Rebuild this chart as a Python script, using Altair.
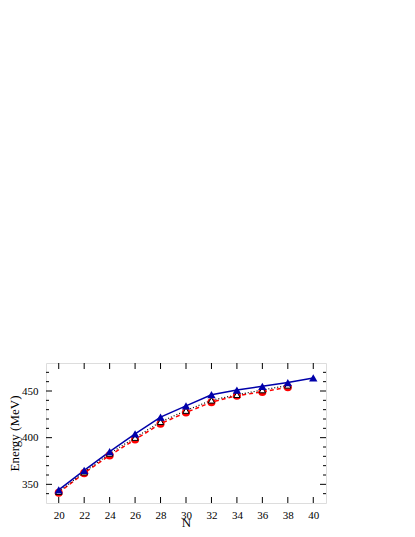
import altair as alt
import pandas as pd

N_blue = [20, 22, 24, 26, 28, 30, 32, 34, 36, 38, 40]
E_blue = [344, 365, 385, 404, 422, 434, 446, 451, 455, 459, 464]
N_red = [20, 22, 24, 26, 28, 30, 32, 34, 36, 38]
E_red = [341, 362, 381, 398, 415, 427, 438, 445, 449, 454]
N_open = [20, 22, 24, 26, 28, 30, 32, 34, 36, 38]
E_open = [342, 363, 383, 400, 417, 429, 440, 446, 451, 456]

x_ticks = list(range(20, 41, 2))
y_major = [350, 400, 450]
y_minor = [v for v in range(340, 480, 10) if v not in y_major]

W, H = 280, 140
FONT = "Liberation Serif"

xs = alt.Scale(domain=[19, 41], nice=False, zero=False)
ys = alt.Scale(domain=[330, 480], nice=False, zero=False)

blue = pd.DataFrame({"N": N_blue, "E": E_blue})
red = pd.DataFrame({"N": N_red, "E": E_red})
opn = pd.DataFrame({"N": N_open, "E": E_open})
xt = pd.DataFrame({"N": x_ticks})
ytM = pd.DataFrame({"E": y_major})
ytm = pd.DataFrame({"E": y_minor})

xax = alt.Axis(values=x_ticks, ticks=False, domain=False, grid=False, labelFont=FONT,
               labelFontSize=11, labelColor="black", labelPadding=6, labelOverlap=False,
               labelFlush=False, title="N", titleFont=FONT, titleFontSize=13,
               titleFontWeight="normal", titlePadding=-4, titleColor="black")
yax = alt.Axis(values=y_major, ticks=False, domain=False, grid=False, labelFont=FONT,
               labelFontSize=11, labelColor="black", labelPadding=8, labelOverlap=False,
               labelFlush=False, title="Energy (MeV)", titleFont=FONT, titleFontSize=13,
               titleFontWeight="normal", titlePadding=0, titleColor="black")

X = alt.X("N:Q", scale=xs, axis=xax)
Y = alt.Y("E:Q", scale=ys, axis=yax)

red_line = alt.Chart(red).mark_line(color="#ff0000", strokeWidth=1.5, strokeDash=[4, 3]).encode(x=X, y=Y)
open_line = alt.Chart(opn).mark_line(color="black", strokeWidth=1.2, strokeDash=[1, 2]).encode(x=X, y=Y)
blue_line = alt.Chart(blue).mark_line(color="#0000aa", strokeWidth=1.5).encode(x=X, y=Y)
red_pts = alt.Chart(red).mark_point(shape="circle", filled=True, color="#ff0000", size=65, opacity=1).encode(x=X, y=Y)
open_pts = alt.Chart(opn).mark_point(shape="triangle-up", filled=True, fill="white", stroke="black", strokeWidth=1, size=40, opacity=1).encode(x=X, y=Y)
blue_pts = alt.Chart(blue).mark_point(shape="triangle-up", filled=True, color="#0000aa", size=70, opacity=1).encode(x=X, y=Y)

tick_col = "black"
xb = alt.Chart(xt).mark_rule(color=tick_col).encode(x=X, y=alt.value(H), y2=alt.value(H - 6))
xtp = alt.Chart(xt).mark_rule(color=tick_col).encode(x=X, y=alt.value(0), y2=alt.value(6))
yl = alt.Chart(ytM).mark_rule(color=tick_col).encode(y=Y, x=alt.value(0), x2=alt.value(6))
yr = alt.Chart(ytM).mark_rule(color=tick_col).encode(y=Y, x=alt.value(W), x2=alt.value(W - 6))
yml = alt.Chart(ytm).mark_rule(color=tick_col).encode(y=Y, x=alt.value(0), x2=alt.value(3))
ymr = alt.Chart(ytm).mark_rule(color=tick_col).encode(y=Y, x=alt.value(W), x2=alt.value(W - 3))

chart = alt.layer(
    red_line, open_line, blue_line, xb, xtp, yl, yr, yml, ymr, red_pts, open_pts, blue_pts
).properties(
    width=W, height=H,
    autosize=alt.AutoSizeParams(type="none"),
    padding={"left": 38, "top": 355, "right": 81, "bottom": 26},
).configure_view(stroke="black", strokeWidth=1.2).configure(background="white", font=FONT)

chart.save("out.html", embed_options={"renderer": "svg", "actions": False})
